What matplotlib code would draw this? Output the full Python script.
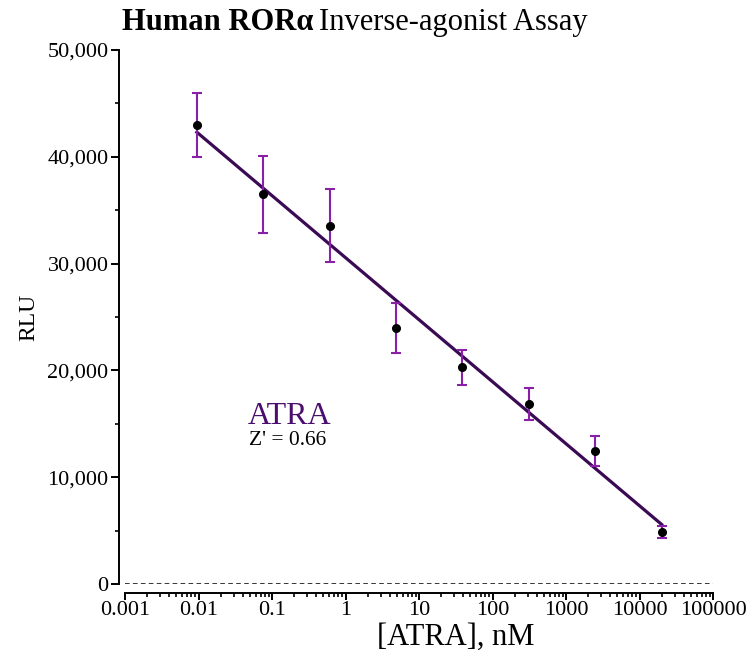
import numpy as np
import matplotlib
matplotlib.use("Agg")
import matplotlib.pyplot as plt
from matplotlib.ticker import FixedLocator, MultipleLocator, FuncFormatter, LogLocator, NullFormatter

# ---- data ----
conc_nM = [0.0095, 0.076, 0.61, 4.88, 39.06, 312.5, 2500.0, 20000.0]
rlu_mean = [43000, 36500, 33550, 23950, 20300, 16850, 12450, 4900]
rlu_err = [3000, 3600, 3400, 2350, 1650, 1470, 1440, 550]
xtick_vals = [0.001, 0.01, 0.1, 1, 10, 100, 1000, 10000, 100000]
xtick_labels = ["0.001", "0.01", "0.1", "1", "10", "100", "1000", "10000", "100000"]
ytick_vals = [0, 10000, 20000, 30000, 40000, 50000]
compound = "ATRA"
zprime = "Z' = 0.66"

serif = "Liberation Serif"
line_col = "#3b0a55"
err_col = "#8a1fa8"

fig = plt.figure(figsize=(7.46, 6.62), dpi=100)
W, H = 746, 662
ax = fig.add_axes([125 / W, (H - 584) / H, 588 / W, 534 / H])

x = np.array(conc_nM)
y = np.array(rlu_mean)
# linear fit of RLU vs log10(conc)
slope, icpt = np.polyfit(np.log10(x), y, 1)
xf = np.logspace(np.log10(x[0]), np.log10(x[-1]), 50)
ax.plot(xf, icpt + slope * np.log10(xf), color=line_col, lw=2.3, zorder=2)

ax.errorbar(x, y, yerr=rlu_err, fmt="none", ecolor=err_col, elinewidth=1.5,
            capsize=3.5, capthick=1.5, zorder=3)
ax.plot(x, y, "o", color="black", ms=5.5, zorder=4)

ax.axhline(0, color="black", lw=1.1, ls=(0, (3, 2.2)), zorder=1)

ax.set_xscale("log")
ax.set_xlim(0.001, 100000)
ax.set_ylim(0, 50000)

ax.xaxis.set_major_locator(FixedLocator(xtick_vals))
ax.set_xticklabels(xtick_labels)
ax.xaxis.set_minor_locator(LogLocator(base=10, subs=np.arange(2, 10)))
ax.xaxis.set_minor_formatter(NullFormatter())
ax.yaxis.set_major_locator(FixedLocator(ytick_vals))
ax.yaxis.set_minor_locator(MultipleLocator(5000))
ax.yaxis.set_major_formatter(FuncFormatter(lambda v, p: f"{int(v):,}"))

for s in ["top", "right"]:
    ax.spines[s].set_visible(False)
ax.spines["left"].set_position(("outward", 4.3))
ax.spines["bottom"].set_position(("outward", 6.5))
for s in ["left", "bottom"]:
    ax.spines[s].set_linewidth(1.4)

ax.tick_params(axis="y", which="major", direction="out", length=6, width=1.4,
               labelsize=16, pad=1.5)
ax.tick_params(axis="x", which="major", direction="out", length=5, width=1.4,
               labelsize=16, pad=1)
ax.tick_params(axis="both", which="minor", direction="out", length=3, width=1.2)
for lab in ax.get_xticklabels() + ax.get_yticklabels():
    lab.set_fontfamily(serif)

ax.set_ylabel("RLU", fontsize=17, fontfamily=serif, labelpad=6)
ax.set_xlabel("[ATRA], nM", fontsize=22, fontfamily=serif)
ax.xaxis.set_label_coords((456 - 125) / 588, (584 - 623) / 534)

ax.text(0.28, 0.30, compound, transform=ax.transAxes, fontsize=23, fontfamily=serif,
        color="#4a0f6e", ha="center", va="baseline")
ax.text(0.277, 0.26, zprime, transform=ax.transAxes, fontsize=15.5, fontfamily=serif,
        color="black", ha="center", va="baseline")

# title in two styles
r = fig.canvas.get_renderer()
t1 = fig.text(122 / W, (H - 30) / H, "Human ROR\u03b1", fontsize=22, fontfamily=serif,
              fontweight="bold", ha="left", va="baseline")
bb = t1.get_window_extent(renderer=r)
fig.text(bb.x1 / W + 6 / W, (H - 30) / H, "Inverse-agonist Assay", fontsize=22,
         fontfamily=serif, ha="left", va="baseline")

fig.savefig("out.png", dpi=100)
